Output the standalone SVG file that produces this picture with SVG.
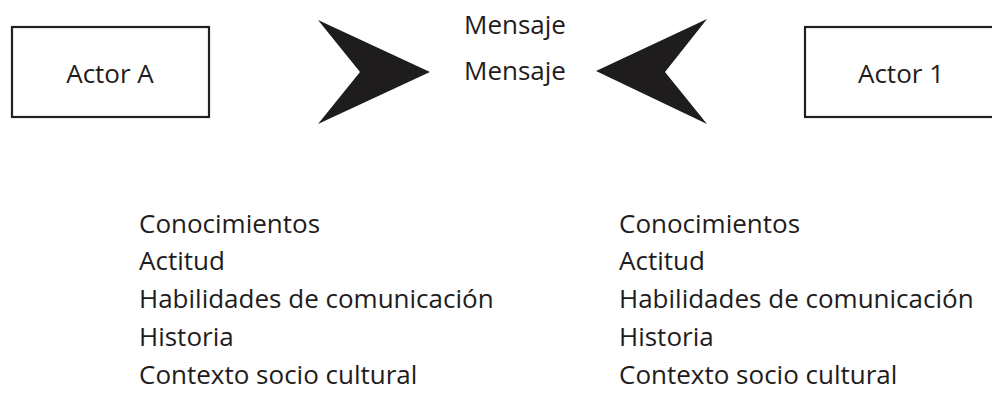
<svg xmlns="http://www.w3.org/2000/svg" width="992" height="408" viewBox="0 0 992 408">
<style>
text{font-family:"Open Sans","Noto Sans",sans-serif;font-size:26px;font-weight:500;fill:#1f1c1d}
.box{fill:#fff;stroke:#231f20;stroke-width:2.2}
.arrow{fill:#1f1c1d}
.c{text-anchor:middle}
</style>
<rect width="992" height="408" fill="#fff"/>
<g id="actorA">
<rect class="box" x="12" y="27" width="197" height="90"/>
<text class="c" x="110" y="83">Actor A</text>
</g>
<g id="actor1">
<rect class="box" x="805" y="27" width="194" height="90"/>
<text class="c" x="901" y="83">Actor 1</text>
</g>
<g id="connectors">
<polygon class="arrow" points="318,20 430,72 318,124 360,72"/>
<polygon class="arrow" points="707,19 596,71 707,124 665,72"/>
</g>
<g id="mensajes">
<text class="c" x="515" y="34">Mensaje</text>
<text class="c" x="515" y="80">Mensaje</text>
</g>
<g id="listA">
<text x="139" y="233">Conocimientos</text>
<text x="139" y="270">Actitud</text>
<text x="139" y="308">Habilidades de comunicación</text>
<text x="139" y="346">Historia</text>
<text x="139" y="384">Contexto socio cultural</text>
</g>
<g id="list1">
<text x="619" y="233">Conocimientos</text>
<text x="619" y="270">Actitud</text>
<text x="619" y="308">Habilidades de comunicación</text>
<text x="619" y="346">Historia</text>
<text x="619" y="384">Contexto socio cultural</text>
</g>
</svg>
